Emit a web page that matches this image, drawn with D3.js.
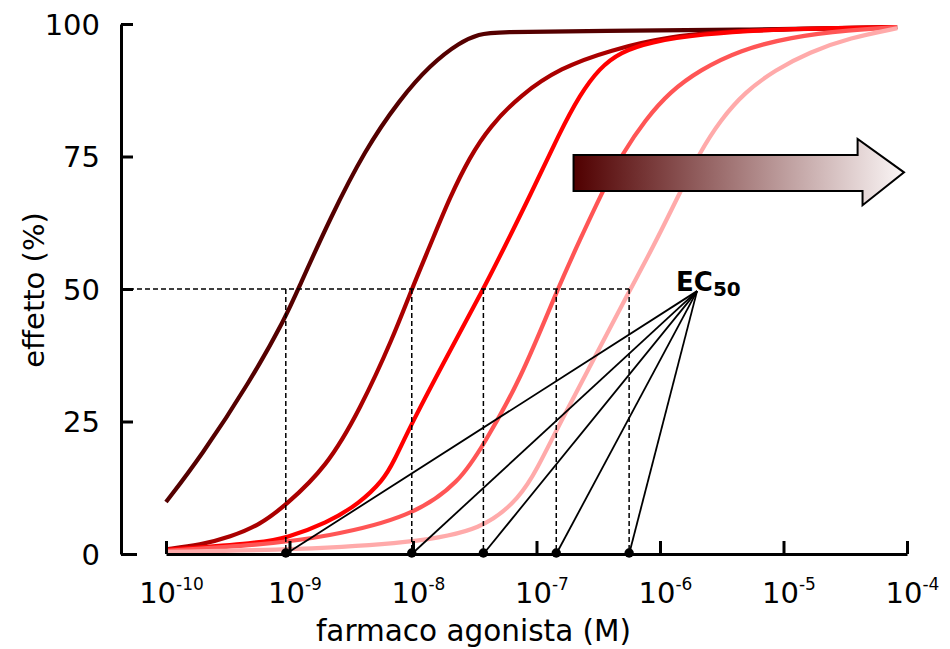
<!DOCTYPE html>
<html><head><meta charset="utf-8">
<script src="https://cdn.jsdelivr.net/npm/d3@7"></script>
<style>
body{margin:0;background:#fff}
svg{display:block}
text{font-family:"DejaVu Sans",sans-serif;fill:#000}
</style>
</head><body>
<svg id="chart" width="950" height="649"></svg>
<script>
// ---- data (log10 of molar concentration, effect %) ----
const seriesColors = ["#550000", "#aa0000", "#ff0000", "#ff5555", "#ffaaaa"];

const logConc1 = [-10, -9.72, -9.32, -9.03, -8.93, -8.67, -8.39, -8.11, -7.86, -7.62, -7.46, -7.34, -6.49, -5.27, -4.08];
const effect1  = [9.8, 18.3, 32.5, 44.7, 50.0, 63.4, 76.2, 85.7, 92.3, 96.6, 98.1, 98.5, 98.7, 98.9, 99.4];

const logConc2 = [-10, -9.72, -9.48, -9.24, -9.03, -8.70, -8.43, -8.16, -8.01, -7.86, -7.70, -7.54, -7.38, -7.13, -6.81, -6.40, -5.92, -5.35, -4.08];
const effect2  = [0.9, 1.7, 3.2, 5.5, 9.2, 16.4, 27.2, 40.9, 50.0, 58.3, 67.4, 74.9, 80.6, 86.6, 91.7, 95.1, 97.7, 98.9, 99.4];

const logConc3 = [-10, -9.24, -9.03, -8.70, -8.43, -8.24, -8.16, -8.01, -7.72, -7.43, -7.27, -7.05, -6.81, -6.65, -6.49, -6.32, -6.08, -5.68, -5.03, -4.08];
const effect3  = [0.8, 2.1, 3.0, 5.8, 9.6, 14.0, 17.2, 24.7, 37.5, 50.0, 57.4, 67.7, 79.6, 86.6, 91.7, 94.7, 96.6, 98.1, 99.1, 99.4];

const logConc4 = [-10, -9.24, -8.70, -8.01, -7.62, -7.43, -7.13, -6.83, -6.65, -6.46, -6.30, -6.12, -5.92, -5.68, -5.35, -4.95, -4.46, -4.08];
const effect4  = [0.6, 1.7, 3.2, 7.0, 13.6, 20.6, 32.8, 50.0, 59.2, 68.7, 75.7, 81.9, 87.2, 91.3, 95.1, 97.5, 98.9, 99.4];

const logConc5 = [-10, -8.92, -8.01, -7.43, -7.13, -7.00, -6.81, -6.54, -6.24, -6.06, -5.84, -5.68, -5.51, -5.31, -5.07, -4.79, -4.46, -4.08];
const effect5  = [0.4, 0.8, 2.1, 4.5, 10.8, 15.8, 24.7, 36.6, 50.0, 57.7, 68.1, 75.7, 81.9, 87.2, 91.3, 94.7, 97.4, 99.2];

const ec50Exponents = [-9.03, -8.01, -7.43, -6.84, -6.25];
const xTickExponents = [-10, -9, -8, -7, -6, -5, -4];
const yTickValues = [0, 25, 50, 75, 100];
const xLabel = "farmaco agonista (M)";
const yLabel = "effetto (%)";
const ecLabelMain = "EC", ecLabelSub = "50";
// annotation anchors in data units [log10 conc, effect]
const ecHub = [-5.70, 49.6];
const arrowShape = [[-6.70,75.3],[-4.40,75.3],[-4.40,78.3],[-4.024,72.0],[-4.36,65.8],[-4.36,68.5],[-6.70,68.5]];

// ---- drawing ----
const svg = d3.select("#chart");
const x = d3.scaleLog().domain([1e-10, 1e-4]).range([166, 907]);
const y = d3.scaleLinear().domain([0, 100]).range([554, 24]);
const X = e => x(Math.pow(10, e));

const series = [
  {lc: logConc1, ef: effect1},
  {lc: logConc2, ef: effect2},
  {lc: logConc3, ef: effect3},
  {lc: logConc4, ef: effect4},
  {lc: logConc5, ef: effect5}
];

const defs = svg.append("defs");
const grad = defs.append("linearGradient").attr("id","arrowGrad")
  .attr("gradientUnits","userSpaceOnUse")
  .attr("x1", X(arrowShape[0][0])).attr("x2", X(arrowShape[3][0]))
  .attr("y1", 0).attr("y2", 0);
grad.append("stop").attr("offset","0%").attr("stop-color","#500000");
grad.append("stop").attr("offset","100%").attr("stop-color","#fbf6f6");

const line = d3.line().x(d => X(d[0])).y(d => y(d[1])).curve(d3.curveBasis);

svg.append("g").selectAll("path").data(series).join("path")
  .attr("d", s => line(s.lc.map((v, i) => [v, s.ef[i]])))
  .attr("fill","none")
  .attr("stroke", (s, i) => seriesColors[i])
  .attr("stroke-width", 4.2)
  .attr("stroke-linejoin","round");

// arrow
svg.append("path")
  .attr("d", d3.line().x(d => X(d[0])).y(d => y(d[1]))(arrowShape) + "Z")
  .attr("fill","url(#arrowGrad)")
  .attr("stroke","#000")
  .attr("stroke-width",2)
  .attr("stroke-linejoin","miter");

// dashed EC50 guides
const dash = svg.append("g").attr("stroke","#000").attr("stroke-width",1.5)
  .attr("stroke-dasharray","5,3").attr("fill","none");
dash.append("line")
  .attr("x1", 121).attr("x2", X(d3.max(ec50Exponents)))
  .attr("y1", y(50)).attr("y2", y(50));
dash.selectAll("line.v").data(ec50Exponents).join("line").attr("class","v")
  .attr("x1", d => X(d)).attr("x2", d => X(d))
  .attr("y1", y(50)).attr("y2", y(0));

// EC50 connector lines
svg.append("g").selectAll("line").data(ec50Exponents).join("line")
  .attr("x1", X(ecHub[0])).attr("y1", y(ecHub[1]))
  .attr("x2", d => X(d)).attr("y2", y(0))
  .attr("stroke","#000").attr("stroke-width",1.8);

// axes
const yAxis = d3.axisLeft(y).tickValues(yTickValues).tickSizeInner(-12).tickSizeOuter(0).tickPadding(21);
const gy = svg.append("g").attr("transform","translate(121,0)").call(yAxis);
gy.select(".domain").attr("stroke-width",3);
gy.selectAll(".tick line").attr("stroke-width",3).attr("x2", d => d === 0 ? 16 : 12);
gy.selectAll(".tick text").attr("font-size",29).attr("font-family","DejaVu Sans").attr("dy","0.36em");

const xAxis = d3.axisBottom(x).tickValues(xTickExponents.map(e => Math.pow(10, e)))
  .tickSizeInner(-13).tickSizeOuter(0).tickPadding(28).tickFormat(() => "");
const gx = svg.append("g").attr("transform","translate(0,554)").call(xAxis);
gx.select(".domain").attr("stroke-width",3);
gx.selectAll(".tick line").attr("stroke-width",3);
gx.selectAll(".tick text").each(function(d, i) {
  const t = d3.select(this).attr("font-size",29).attr("font-family","DejaVu Sans")
    .attr("x", 5).attr("text-anchor","middle");
  t.text(null);
  t.append("tspan").text("10");
  t.append("tspan").attr("font-size",17).attr("dy","-0.75em").text(String(xTickExponents[i]));
});

// dots
svg.append("g").selectAll("circle").data(ec50Exponents).join("circle")
  .attr("cx", d => X(d)).attr("cy", y(0) - 1).attr("r", 4.7).attr("fill","#000");

// EC50 label
const ec = svg.append("text").attr("x", X(ecHub[0]) - 21).attr("y", y(ecHub[1]))
  .attr("font-weight","bold").attr("font-size",26);
ec.append("tspan").text(ecLabelMain);
ec.append("tspan").attr("font-size",20).attr("dy",5).text(ecLabelSub);

// axis labels
svg.append("text").attr("x", 473.5).attr("y", 641).attr("text-anchor","middle")
  .attr("font-size",29.5).text(xLabel);
svg.append("text").attr("transform","translate(44,290) rotate(-90)").attr("text-anchor","middle")
  .attr("font-size",29).text(yLabel);
</script>
</body></html>
